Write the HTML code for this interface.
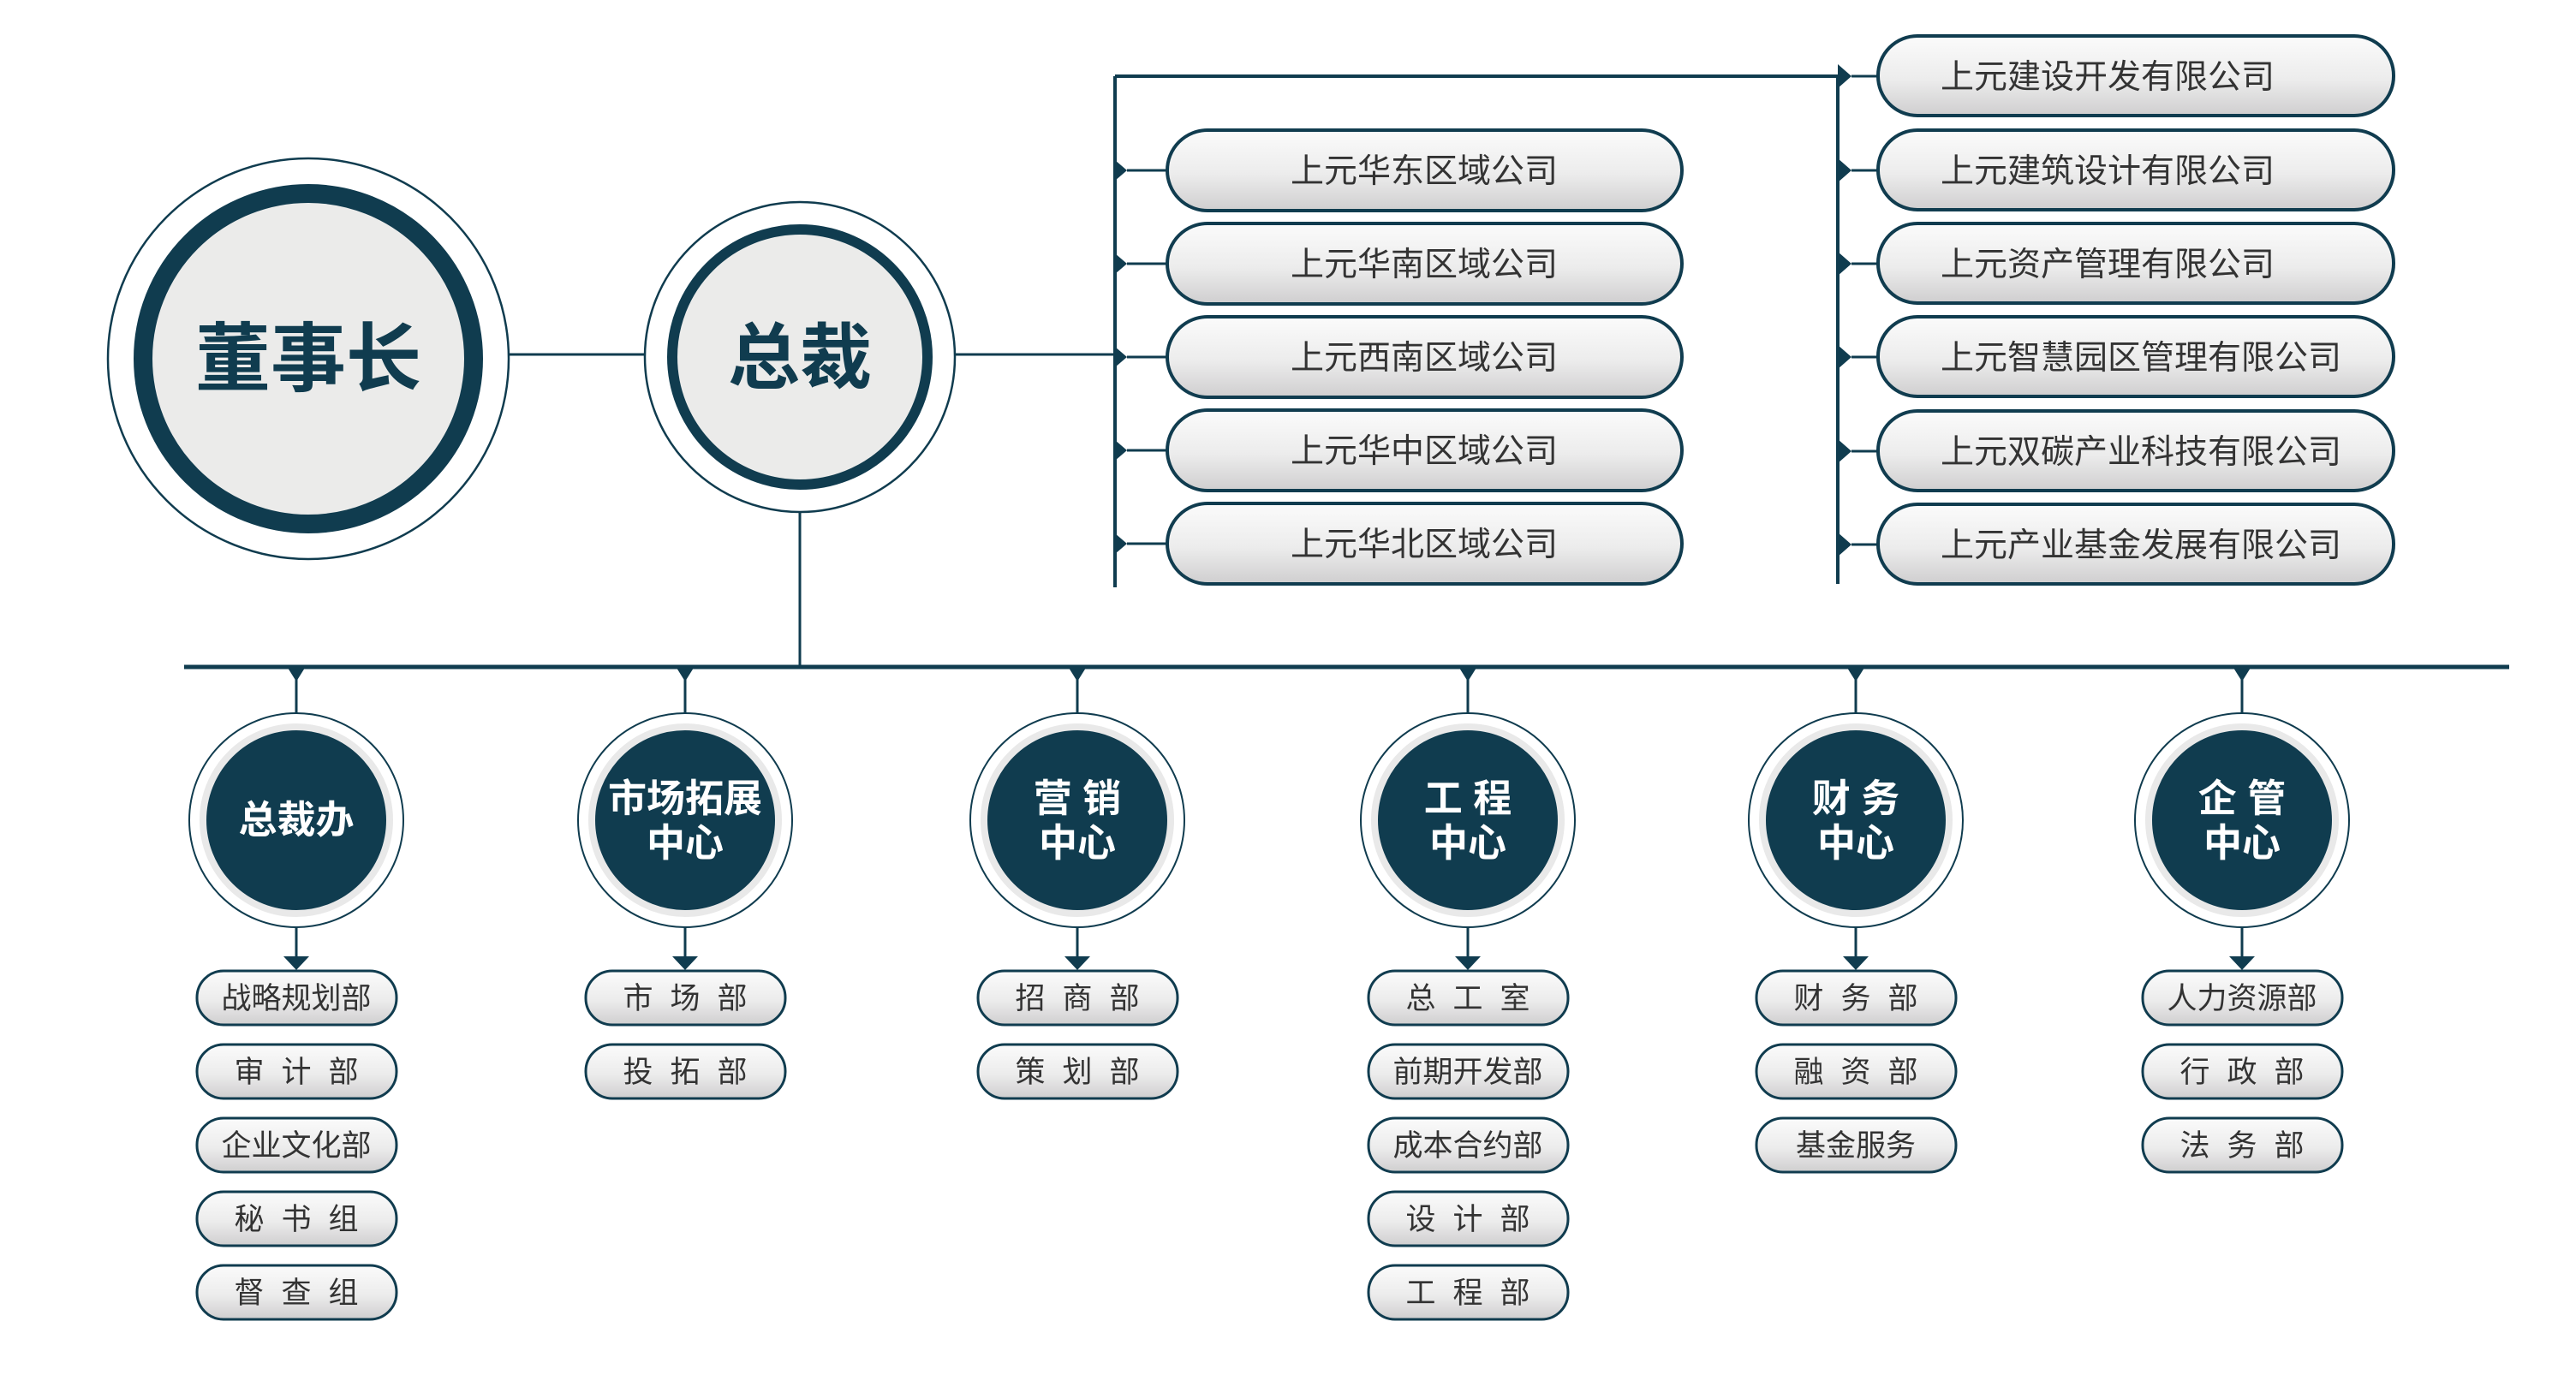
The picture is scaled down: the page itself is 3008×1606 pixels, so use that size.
<!DOCTYPE html>
<html><head><meta charset="utf-8"><style>
html,body{margin:0;padding:0;background:#fff;}
svg{display:block;}
text{font-family:"Liberation Sans","Noto Sans CJK SC",sans-serif;}
.ls{letter-spacing:20px;}
</style></head><body>
<svg width="3008" height="1606" viewBox="0 0 3008 1606" xmlns="http://www.w3.org/2000/svg">
<defs>
<linearGradient id="g" x1="0" y1="0" x2="0" y2="1">
<stop offset="0" stop-color="#fbfbfb"/><stop offset="0.55" stop-color="#ececec"/><stop offset="1" stop-color="#cfcecf"/>
</linearGradient>
</defs>
<g stroke="#103c4f" fill="none">
<line x1="593" y1="414" x2="754" y2="414" stroke-width="3"/>
<line x1="1115" y1="414" x2="1302" y2="414" stroke-width="3"/>
<line x1="934" y1="598" x2="934" y2="779" stroke-width="3"/>
<line x1="215" y1="779" x2="2930" y2="779" stroke-width="5"/>
<line x1="1302" y1="89" x2="1302" y2="686" stroke-width="4"/>
<line x1="1302" y1="89" x2="2146" y2="89" stroke-width="4"/>
<line x1="2146" y1="89" x2="2146" y2="682" stroke-width="4"/>
</g>
<circle cx="360" cy="419" r="234" fill="#fff" stroke="#103c4f" stroke-width="2.5"/>
<circle cx="360" cy="419" r="193" fill="#ebebea" stroke="#103c4f" stroke-width="22"/>
<text x="360" y="450" font-size="88" font-weight="bold" fill="#103c4f" text-anchor="middle">董事长</text>
<circle cx="934" cy="417" r="181" fill="#fff" stroke="#103c4f" stroke-width="2.5"/>
<circle cx="934" cy="417" r="149" fill="#ebebea" stroke="#103c4f" stroke-width="12"/>
<text x="934" y="447" font-size="84" font-weight="bold" fill="#103c4f" text-anchor="middle">总裁</text>

<g fill="#103c4f">
<polygon points="1302,187 1316,199 1302,211"/><polygon points="1302,296 1316,308 1302,320"/><polygon points="1302,405 1316,417 1302,429"/><polygon points="1302,514 1316,526 1302,538"/><polygon points="1302,623 1316,635 1302,647"/>
</g>
<g stroke="#103c4f" stroke-width="3">
<line x1="1316" y1="199" x2="1362" y2="199"/><line x1="1316" y1="308" x2="1362" y2="308"/><line x1="1316" y1="417" x2="1362" y2="417"/><line x1="1316" y1="526" x2="1362" y2="526"/><line x1="1316" y1="635" x2="1362" y2="635"/>
</g>
<g fill="url(#g)" stroke="#103c4f" stroke-width="4">
<rect x="1363" y="152" width="601" height="94" rx="47"/>
<rect x="1363" y="261" width="601" height="94" rx="47"/>
<rect x="1363" y="370" width="601" height="94" rx="47"/>
<rect x="1363" y="479" width="601" height="94" rx="47"/>
<rect x="1363" y="588" width="601" height="94" rx="47"/>
</g>
<g font-size="39" fill="#333" text-anchor="middle">
<text x="1663" y="213">上元华东区域公司</text>
<text x="1663" y="322">上元华南区域公司</text>
<text x="1663" y="431">上元西南区域公司</text>
<text x="1663" y="540">上元华中区域公司</text>
<text x="1663" y="649">上元华北区域公司</text>
</g>

<g fill="#103c4f">
<polygon points="2146,75 2162,89 2146,103"/><polygon points="2146,185 2162,199 2146,213"/><polygon points="2146,294 2162,308 2146,322"/><polygon points="2146,403 2162,417 2146,431"/><polygon points="2146,513 2162,527 2146,541"/><polygon points="2146,622 2162,636 2146,650"/>
</g>
<g stroke="#103c4f" stroke-width="3">
<line x1="2162" y1="89" x2="2192" y2="89"/><line x1="2162" y1="199" x2="2192" y2="199"/><line x1="2162" y1="308" x2="2192" y2="308"/><line x1="2162" y1="417" x2="2192" y2="417"/><line x1="2162" y1="527" x2="2192" y2="527"/><line x1="2162" y1="636" x2="2192" y2="636"/>
</g>
<g fill="url(#g)" stroke="#103c4f" stroke-width="4">
<rect x="2193" y="42" width="602" height="93" rx="46"/>
<rect x="2193" y="152" width="602" height="93" rx="46"/>
<rect x="2193" y="261" width="602" height="93" rx="46"/>
<rect x="2193" y="370" width="602" height="93" rx="46"/>
<rect x="2193" y="480" width="602" height="93" rx="46"/>
<rect x="2193" y="589" width="602" height="93" rx="46"/>
</g>
<g font-size="39" fill="#333">
<text x="2266" y="103">上元建设开发有限公司</text>
<text x="2266" y="213">上元建筑设计有限公司</text>
<text x="2266" y="322">上元资产管理有限公司</text>
<text x="2266" y="431">上元智慧园区管理有限公司</text>
<text x="2266" y="541">上元双碳产业科技有限公司</text>
<text x="2266" y="650">上元产业基金发展有限公司</text>
</g>

<g stroke="#103c4f" stroke-width="3">
<line x1="346" y1="779" x2="346" y2="833"/><line x1="346" y1="1083" x2="346" y2="1120"/>
<line x1="800" y1="779" x2="800" y2="833"/><line x1="800" y1="1083" x2="800" y2="1120"/>
<line x1="1258" y1="779" x2="1258" y2="833"/><line x1="1258" y1="1083" x2="1258" y2="1120"/>
<line x1="1714" y1="779" x2="1714" y2="833"/><line x1="1714" y1="1083" x2="1714" y2="1120"/>
<line x1="2167" y1="779" x2="2167" y2="833"/><line x1="2167" y1="1083" x2="2167" y2="1120"/>
<line x1="2618" y1="779" x2="2618" y2="833"/><line x1="2618" y1="1083" x2="2618" y2="1120"/>
</g>
<g fill="#103c4f">
<polygon points="336,780 356,780 346,796"/><polygon points="331,1117 361,1117 346,1133"/>
<polygon points="790,780 810,780 800,796"/><polygon points="785,1117 815,1117 800,1133"/>
<polygon points="1248,780 1268,780 1258,796"/><polygon points="1243,1117 1273,1117 1258,1133"/>
<polygon points="1704,780 1724,780 1714,796"/><polygon points="1699,1117 1729,1117 1714,1133"/>
<polygon points="2157,780 2177,780 2167,796"/><polygon points="2152,1117 2182,1117 2167,1133"/>
<polygon points="2608,780 2628,780 2618,796"/><polygon points="2603,1117 2633,1117 2618,1133"/>
</g>
<g stroke="#103c4f" stroke-width="2" fill="#fff">
<circle cx="346" cy="958" r="125"/><circle cx="800" cy="958" r="125"/><circle cx="1258" cy="958" r="125"/>
<circle cx="1714" cy="958" r="125"/><circle cx="2167" cy="958" r="125"/><circle cx="2618" cy="958" r="125"/>
</g>
<g fill="#103c4f" stroke="#e9e9e9" stroke-width="8">
<circle cx="346" cy="958" r="109"/><circle cx="800" cy="958" r="109"/><circle cx="1258" cy="958" r="109"/>
<circle cx="1714" cy="958" r="109"/><circle cx="2167" cy="958" r="109"/><circle cx="2618" cy="958" r="109"/>
</g>
<g fill="#fff" font-size="45" font-weight="bold" text-anchor="middle">
<text x="346" y="973">总裁办</text>
<text x="800" y="948">市场拓展</text><text x="800" y="1000">中心</text>
<text x="1258" y="948">营 销</text><text x="1258" y="1000">中心</text>
<text x="1714" y="948">工 程</text><text x="1714" y="1000">中心</text>
<text x="2167" y="948">财 务</text><text x="2167" y="1000">中心</text>
<text x="2618" y="948">企 管</text><text x="2618" y="1000">中心</text>
</g>
<g fill="url(#g)" stroke="#103c4f" stroke-width="3">
<rect x="230" y="1134" width="233" height="63" rx="31"/><rect x="230" y="1220" width="233" height="63" rx="31"/><rect x="230" y="1306" width="233" height="63" rx="31"/><rect x="230" y="1392" width="233" height="63" rx="31"/><rect x="230" y="1478" width="233" height="63" rx="31"/>
<rect x="684" y="1134" width="233" height="63" rx="31"/><rect x="684" y="1220" width="233" height="63" rx="31"/>
<rect x="1142" y="1134" width="233" height="63" rx="31"/><rect x="1142" y="1220" width="233" height="63" rx="31"/>
<rect x="1598" y="1134" width="233" height="63" rx="31"/><rect x="1598" y="1220" width="233" height="63" rx="31"/><rect x="1598" y="1306" width="233" height="63" rx="31"/><rect x="1598" y="1392" width="233" height="63" rx="31"/><rect x="1598" y="1478" width="233" height="63" rx="31"/>
<rect x="2051" y="1134" width="233" height="63" rx="31"/><rect x="2051" y="1220" width="233" height="63" rx="31"/><rect x="2051" y="1306" width="233" height="63" rx="31"/>
<rect x="2502" y="1134" width="233" height="63" rx="31"/><rect x="2502" y="1220" width="233" height="63" rx="31"/><rect x="2502" y="1306" width="233" height="63" rx="31"/>
</g>
<g fill="#333" font-size="35" text-anchor="middle">
<text x="346" y="1178">战略规划部</text><text class="ls" x="356" y="1264">审计部</text><text x="346" y="1350">企业文化部</text><text class="ls" x="356" y="1436">秘书组</text><text class="ls" x="356" y="1522">督查组</text>
<text class="ls" x="810" y="1178">市场部</text><text class="ls" x="810" y="1264">投拓部</text>
<text class="ls" x="1268" y="1178">招商部</text><text class="ls" x="1268" y="1264">策划部</text>
<text class="ls" x="1724" y="1178">总工室</text><text x="1714" y="1264">前期开发部</text><text x="1714" y="1350">成本合约部</text><text class="ls" x="1724" y="1436">设计部</text><text class="ls" x="1724" y="1522">工程部</text>
<text class="ls" x="2177" y="1178">财务部</text><text class="ls" x="2177" y="1264">融资部</text><text x="2167" y="1350">基金服务</text>
<text x="2618" y="1178">人力资源部</text><text class="ls" x="2628" y="1264">行政部</text><text class="ls" x="2628" y="1350">法务部</text>
</g>
</svg>
</body></html>
